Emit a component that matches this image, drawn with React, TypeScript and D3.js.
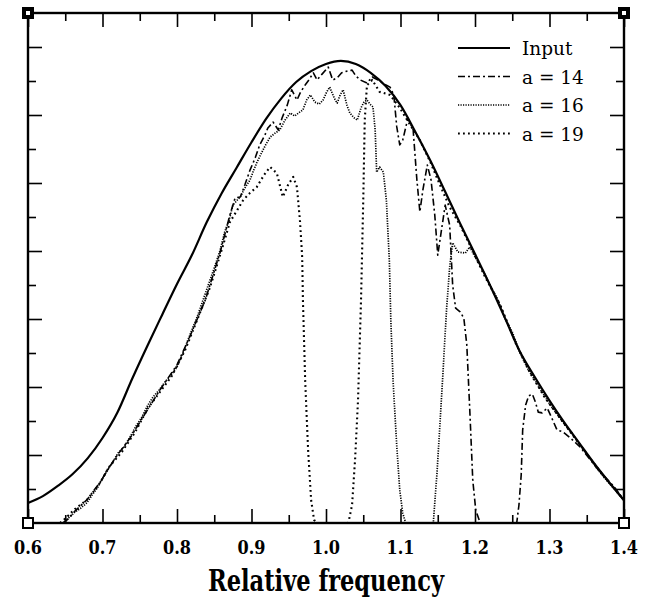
import React, { useEffect, useRef } from "react";
import * as d3 from "d3";

// input spectrum
const INPUT_FREQ = [0.6, 0.62, 0.64, 0.66, 0.68, 0.7, 0.72, 0.74, 0.76, 0.78, 0.8, 0.82, 0.84, 0.86, 0.88, 0.9, 0.92, 0.94, 0.96, 0.98, 1.0,
    1.02, 1.04, 1.06, 1.08, 1.1, 1.12, 1.14, 1.16, 1.18, 1.2, 1.22, 1.24, 1.26, 1.28, 1.3, 1.32, 1.34, 1.36, 1.38, 1.4];
const INPUT_AMP = [0.59, 0.79, 1.09, 1.44, 1.9, 2.5, 3.25, 4.25, 5.2, 6.12, 7.03, 7.88, 8.85, 9.7, 10.45, 11.2, 11.9, 12.49, 12.97, 13.29, 13.5,
    13.59, 13.5, 13.24, 12.85, 12.29, 11.5, 10.66, 9.74, 8.81, 7.91, 7.0, 6.04, 5.05, 4.3, 3.6, 2.95, 2.35, 1.75, 1.2, 0.67];

// [frequency, amplitude]
const A14 = [[0.647, 0], [0.654, 0.12], [0.663, 0.35], [0.679, 0.68], [0.697, 1.21], [0.717, 1.91], [0.737, 2.5], [0.757, 3.21],
    [0.777, 3.91], [0.8, 4.65], [0.817, 5.47], [0.838, 6.56], [0.858, 7.97], [0.871, 9.06], [0.878, 9.56], [0.885, 9.59],
    [0.891, 9.94], [0.898, 10.38], [0.905, 10.74], [0.911, 11.12], [0.918, 11.41], [0.922, 11.62], [0.929, 11.79], [0.936, 11.56],
    [0.941, 11.91], [0.948, 12.29], [0.954, 12.74], [0.961, 12.44], [0.966, 12.68], [0.972, 12.88], [0.977, 13.03], [0.983, 13.24],
    [0.988, 13.03], [0.995, 13.21], [1.003, 13.41], [1.009, 13.03], [1.015, 13.09], [1.021, 13.24], [1.028, 13.29], [1.035, 13.32],
    [1.04, 13.15], [1.046, 13.03], [1.055, 12.94], [1.062, 13.12], [1.07, 13.03], [1.078, 12.91], [1.086, 12.82], [1.091, 12.59],
    [1.095, 11.65], [1.099, 11.12], [1.103, 11.26], [1.11, 11.91], [1.117, 11.56], [1.122, 10.09], [1.126, 9.15], [1.13, 9.79],
    [1.136, 10.53], [1.141, 10.09], [1.146, 9.06], [1.15, 7.88], [1.154, 8.47], [1.16, 9.35], [1.166, 8.76], [1.17, 7.0],
    [1.174, 6.32], [1.18, 6.21], [1.185, 6.03], [1.189, 5.24], [1.193, 3.32], [1.197, 1.26], [1.201, 0.38], [1.207, 0],
    [1.256, 0], [1.259, 0.53], [1.262, 1.41], [1.264, 2.74], [1.268, 3.47], [1.272, 3.74], [1.277, 3.79], [1.281, 3.56],
    [1.285, 3.26], [1.29, 3.24], [1.297, 3.38], [1.303, 3.09], [1.31, 2.74], [1.318, 2.68], [1.328, 2.5], [1.341, 2.24],
    [1.354, 1.88], [1.368, 1.5], [1.387, 1.06], [1.399, 0.68]];

const A16 = [[0.647, 0], [0.656, 0.18], [0.663, 0.32], [0.671, 0.44], [0.679, 0.59], [0.686, 0.82], [0.693, 1.03], [0.699, 1.26],
    [0.706, 1.56], [0.713, 1.76], [0.721, 2.06], [0.729, 2.24], [0.737, 2.53], [0.745, 2.85], [0.753, 3.12], [0.761, 3.47],
    [0.768, 3.71], [0.776, 3.91], [0.784, 4.15], [0.792, 4.35], [0.8, 4.59], [0.807, 4.94], [0.813, 5.29], [0.82, 5.68],
    [0.827, 6.06], [0.835, 6.56], [0.842, 7.0], [0.85, 7.5], [0.858, 8.03], [0.864, 8.56], [0.87, 8.91], [0.875, 9.35],
    [0.881, 9.5], [0.885, 9.59], [0.891, 9.85], [0.898, 10.09], [0.903, 10.38], [0.907, 10.59], [0.914, 10.91], [0.919, 11.12],
    [0.925, 11.35], [0.932, 11.47], [0.938, 11.56], [0.945, 11.85], [0.952, 12.06], [0.958, 11.97], [0.965, 12.09], [0.969, 12.15],
    [0.974, 12.44], [0.979, 12.59], [0.985, 12.38], [0.991, 12.32], [0.996, 12.44], [1.001, 12.68], [1.005, 12.82], [1.011, 12.5],
    [1.015, 12.35], [1.019, 12.59], [1.023, 12.74], [1.028, 12.29], [1.032, 12.06], [1.038, 11.91], [1.042, 11.85], [1.047, 12.21],
    [1.051, 12.38], [1.055, 12.44], [1.059, 12.32], [1.063, 12.24], [1.066, 11.56], [1.068, 10.32], [1.072, 10.47], [1.077, 10.32],
    [1.081, 9.5], [1.085, 7.74], [1.087, 5.97], [1.09, 4.21], [1.095, 2.24], [1.099, 0.97], [1.103, 0.29], [1.107, 0],
    [1.144, 0], [1.149, 1.47], [1.153, 2.94], [1.157, 4.41], [1.162, 6.35], [1.166, 7.53], [1.17, 8.24], [1.177, 7.97],
    [1.187, 7.94], [1.193, 8.12], [1.201, 7.79], [1.209, 7.5], [1.22, 7.0], [1.231, 6.56], [1.24, 6.03], [1.25, 5.62],
    [1.26, 5.03], [1.27, 4.56], [1.281, 4.18], [1.291, 3.82], [1.301, 3.47], [1.31, 3.21], [1.321, 2.88], [1.33, 2.65],
    [1.341, 2.29], [1.352, 1.97], [1.362, 1.65], [1.374, 1.32], [1.387, 1.0], [1.399, 0.68]];

const A19 = [[0.643, 0], [0.651, 0.15], [0.663, 0.41], [0.679, 0.68], [0.694, 1.09], [0.71, 1.68], [0.726, 2.09], [0.744, 2.68],
    [0.761, 3.38], [0.777, 3.85], [0.793, 4.32], [0.811, 5.09], [0.827, 5.97], [0.844, 6.91], [0.86, 8.03], [0.871, 8.85],
    [0.881, 9.21], [0.889, 9.5], [0.898, 9.71], [0.907, 9.88], [0.917, 10.24], [0.925, 10.47], [0.934, 10.29], [0.942, 9.59],
    [0.949, 9.94], [0.956, 10.18], [0.961, 9.88], [0.965, 8.91], [0.968, 7.82], [0.969, 6.56], [0.972, 4.21], [0.976, 2.15],
    [0.98, 0.68], [0.984, 0.09], [0.988, 0], [1.03, 0], [1.035, 0.53], [1.039, 1.85], [1.043, 3.62], [1.047, 6.56],
    [1.05, 9.5], [1.052, 11.85], [1.055, 12.88], [1.062, 13.03], [1.072, 12.68], [1.086, 12.59], [1.099, 12.21], [1.113, 11.71],
    [1.126, 11.26], [1.14, 10.62], [1.153, 9.94], [1.166, 9.29], [1.18, 8.76], [1.193, 8.18], [1.213, 7.26], [1.234, 6.41],
    [1.254, 5.32], [1.274, 4.41], [1.294, 3.68], [1.314, 3.09], [1.334, 2.5], [1.354, 1.91], [1.374, 1.35], [1.399, 0.71]];

const SERIES_NAMES = ["Input", "a = 14", "a = 16", "a = 19"];
const X_TICKS = [0.6, 0.7, 0.8, 0.9, 1.0, 1.1, 1.2, 1.3, 1.4];
const X_LABELS = ["0.6", "0.7", "0.8", "0.9", "1.0", "1.1", "1.2", "1.3", "1.4"];
const X_MINOR = [0.65, 0.75, 0.85, 0.95, 1.05, 1.15, 1.25, 1.35];
const Y_MAJOR = [2, 4, 6, 8, 10, 12, 14];
const Y_MINOR = [1, 3, 5, 7, 9, 11, 13];

const STYLES = [
    { width: 2.2, dash: null },
    { width: 1.6, dash: "7,3,2,3" },
    { width: 1.7, dash: "1.2,1.3" },
    { width: 2.1, dash: "1.8,3.2" }
];

const App = () => {
    const ref = useRef(null);

    useEffect(() => {
        document.body.style.margin = "0";
        const svg = d3.select(ref.current);
        svg.selectAll("*").remove();

        const x = d3.scaleLinear().domain([0.6, 1.4]).range([28, 624]);
        const y = d3.scaleLinear().domain([0, 15]).range([523, 13]);

        const input = INPUT_FREQ.map((f, i) => [f, INPUT_AMP[i]]);
        const series = [input, A14, A16, A19];

        const line = d3.line().x(d => x(d[0])).y(d => y(d[1]));
        const smooth = d3.line().x(d => x(d[0])).y(d => y(d[1])).curve(d3.curveMonotoneX);

        // curves
        series.forEach((s, i) => {
            svg.append("path")
                .attr("d", i === 0 ? smooth(s) : line(s))
                .attr("fill", "none")
                .attr("stroke", "#000")
                .attr("stroke-width", STYLES[i].width)
                .attr("stroke-dasharray", STYLES[i].dash)
                .attr("stroke-linejoin", "round");
        });

        // ticks on all four sides, pointing inward
        const addAxis = (axis, transform) => {
            const g = svg.append("g").attr("transform", transform).call(axis);
            g.select(".domain").remove();
            g.selectAll("text").remove();
            g.selectAll("line").attr("stroke", "#000").attr("stroke-width", 1.6);
        };
        const [x0, x1] = x.range();
        const [y0, y1] = y.range();
        addAxis(d3.axisBottom(x).tickValues(X_TICKS).tickSize(-14), `translate(0,${y0})`);
        addAxis(d3.axisBottom(x).tickValues(X_MINOR).tickSize(-8), `translate(0,${y0})`);
        addAxis(d3.axisTop(x).tickValues(X_TICKS).tickSize(-14), `translate(0,${y1})`);
        addAxis(d3.axisTop(x).tickValues(X_MINOR).tickSize(-8), `translate(0,${y1})`);
        addAxis(d3.axisLeft(y).tickValues(Y_MAJOR).tickSize(-14), `translate(${x0},0)`);
        addAxis(d3.axisLeft(y).tickValues(Y_MINOR).tickSize(-8), `translate(${x0},0)`);
        addAxis(d3.axisRight(y).tickValues(Y_MAJOR).tickSize(-14), `translate(${x1},0)`);
        addAxis(d3.axisRight(y).tickValues(Y_MINOR).tickSize(-8), `translate(${x1},0)`);

        // frame
        svg.append("rect")
            .attr("x", x0).attr("y", y1)
            .attr("width", x1 - x0).attr("height", y0 - y1)
            .attr("fill", "none").attr("stroke", "#000").attr("stroke-width", 2.4);

        // corner marks
        [[x0, y1, true], [x1, y1, true], [x0, y0, false], [x1, y0, false]].forEach(([cx, cy, filled]) => {
            svg.append("rect")
                .attr("x", cx - 5).attr("y", cy - 5)
                .attr("width", 10).attr("height", 10)
                .attr("fill", filled ? "#000" : "#fff")
                .attr("stroke", "#000").attr("stroke-width", 2);
            if (filled) {
                svg.append("rect")
                    .attr("x", cx - 2).attr("y", cy - 2)
                    .attr("width", 4).attr("height", 4)
                    .attr("fill", "#fff");
            }
        });

        // tick labels
        svg.append("g").selectAll("text")
            .data(X_TICKS)
            .enter()
            .append("text")
            .attr("x", d => x(d))
            .attr("y", 554)
            .attr("text-anchor", "middle")
            .attr("textLength", 28)
            .attr("lengthAdjust", "spacingAndGlyphs")
            .style("font-family", "'DejaVu Serif'")
            .style("font-weight", "bold")
            .style("font-size", "18px")
            .text((d, i) => X_LABELS[i]);

        svg.append("text")
            .attr("x", (x0 + x1) / 2)
            .attr("y", 591)
            .attr("text-anchor", "middle")
            .attr("textLength", 236)
            .attr("lengthAdjust", "spacingAndGlyphs")
            .style("font-family", "'DejaVu Serif'")
            .style("font-weight", "bold")
            .style("font-size", "29px")
            .text("Relative frequency");

        // legend
        const legend = svg.append("g");
        SERIES_NAMES.forEach((name, i) => {
            const ly = 48 + i * 28.5;
            legend.append("line")
                .attr("x1", 458).attr("x2", 510)
                .attr("y1", ly).attr("y2", ly)
                .attr("stroke", "#000")
                .attr("stroke-width", STYLES[i].width)
                .attr("stroke-dasharray", STYLES[i].dash);
            legend.append("text")
                .attr("x", 522)
                .attr("y", ly + 7)
                .style("font-family", "'DejaVu Serif'")
                .style("font-size", "18.5px")
                .text(name);
        });
    }, []);

    return <svg ref={ref} width={650} height={604} style={{ display: "block", background: "#fff" }} />;
};

export default App;
